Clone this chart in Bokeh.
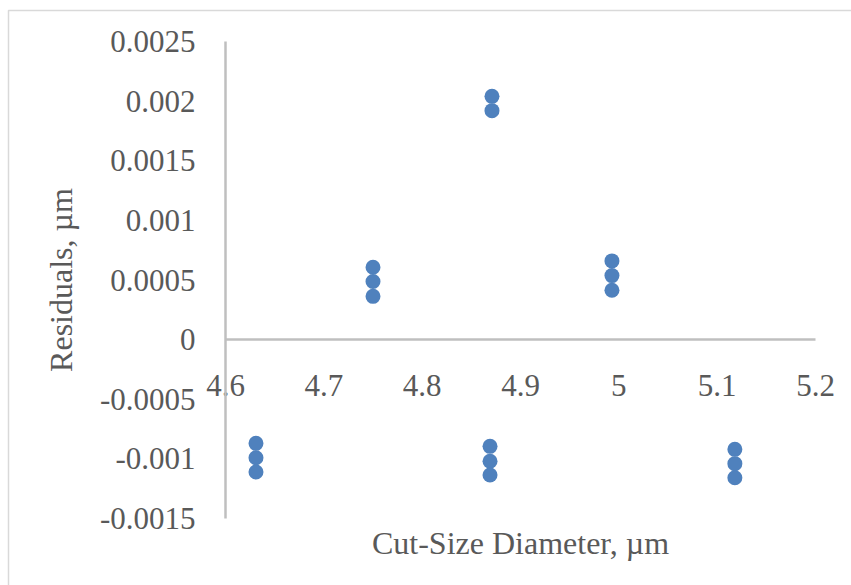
import math
from bokeh.plotting import figure
from bokeh.models import Range1d, LinearAxis, FixedTicker
from bokeh.core.properties import value
from bokeh.embed import file_html
from bokeh.resources import INLINE

# ---- data ----
cut_size = [4.631, 4.631, 4.631,
            4.75, 4.75, 4.75,
            4.871, 4.871,
            4.869, 4.869, 4.869,
            4.993, 4.993, 4.993,
            5.118, 5.118, 5.118]
residual = [-0.00087, -0.00099, -0.00111,
            0.000607, 0.000487, 0.000363,
            0.00204, 0.00192,
            -0.000895, -0.00102, -0.001135,
            0.00066, 0.000537, 0.000414,
            -0.00092, -0.00104, -0.001158]

x_ticks = [4.6, 4.7, 4.8, 4.9, 5.0, 5.1, 5.2]
x_tick_labels = ["4.6", "4.7", "4.8", "4.9", "5", "5.1", "5.2"]
y_ticks = [-0.0015, -0.001, -0.0005, 0.0, 0.0005, 0.001, 0.0015, 0.002, 0.0025]
y_tick_labels = ["-0.0015", "-0.001", "-0.0005", "0", "0.0005", "0.001",
                 "0.0015", "0.002", "0.0025"]

x_title = "Cut-Size Diameter, µm"
y_title = "Residuals, µm"

# ---- layout (pixels) ----
W, H = 851, 585
AX_L, AX_R = 225, 815      # x pixels of 4.6 and 5.2
AX_T, AX_B = 41, 518       # y pixels of 0.0025 and -0.0015
BORDER_L, BORDER_T = 8, 10 # chart-area border
x_lo, x_hi = x_ticks[0], x_ticks[-1]
y_lo, y_hi = y_ticks[0], y_ticks[-1]
kx = (AX_R - AX_L) / (x_hi - x_lo)
ky = (AX_B - AX_T) / (y_hi - y_lo)
xr = Range1d(x_lo - AX_L / kx, x_hi + (W - AX_R) / kx)
yr = Range1d(y_lo - (H - AX_B) / ky, y_hi + AX_T / ky)

FONT = "Liberation Serif"
TXT = "#595959"
AX = "#BFBFBF"

p = figure(width=W, height=H, output_backend="svg", toolbar_location=None,
           x_range=xr, y_range=yr,
           x_axis_location=None, y_axis_location=None, min_border=0)
p.outline_line_color = None
p.xgrid.visible = False
p.ygrid.visible = False
p.background_fill_color = "white"
p.border_fill_color = "white"

# chart area border (only top and left edges fall inside the picture)
bx = xr.start + BORDER_L / kx
by = yr.end - BORDER_T / ky
p.line(x=[bx, bx, xr.end + 1], y=[yr.start - 1, by, by],
       line_color="#D9D9D9", line_width=1.5)

# x axis crossing at y = 0
xa = LinearAxis(ticker=FixedTicker(ticks=x_ticks), bounds=(x_lo, x_hi),
                major_label_overrides={t: s for t, s in zip(x_ticks, x_tick_labels)})
xa.fixed_location = 0
xa.axis_line_color = AX
xa.axis_line_width = 2.5
xa.major_tick_line_color = None
xa.minor_tick_line_color = None
xa.major_tick_out = 0
xa.major_tick_in = 0
xa.major_label_standoff = 35
xa.major_label_text_font = FONT
xa.major_label_text_font_size = "31px"
xa.major_label_text_color = TXT
p.add_layout(xa, "below")

# y axis at x = 4.6
ya = LinearAxis(ticker=FixedTicker(ticks=y_ticks), bounds=(y_lo, y_hi),
                major_label_overrides={t: s for t, s in zip(y_ticks, y_tick_labels)})
ya.fixed_location = x_lo
ya.axis_line_color = AX
ya.axis_line_width = 2.5
ya.major_tick_line_color = None
ya.minor_tick_line_color = None
ya.major_tick_out = 0
ya.major_tick_in = 0
ya.major_label_standoff = 30
ya.major_label_text_font = FONT
ya.major_label_text_font_size = "31px"
ya.major_label_text_color = TXT
p.add_layout(ya, "left")

# axis titles
p.text(x=[(x_lo + x_hi) / 2], y=[y_lo], text=[x_title], y_offset=24,
       text_font=value(FONT), text_font_size="32px", text_color=TXT,
       text_align="center", text_baseline="alphabetic")
p.text(x=[x_lo], y=[(y_lo + y_hi) / 2], text=[y_title], x_offset=-165,
       angle=math.pi / 2,
       text_font=value(FONT), text_font_size="32px", text_color=TXT,
       text_align="center", text_baseline="alphabetic")

p.scatter(cut_size, residual, marker="circle", size=15,
          fill_color="#4F81BD", line_color="#4F81BD", line_width=0)

open("out.html", "w").write(file_html(p, INLINE))
